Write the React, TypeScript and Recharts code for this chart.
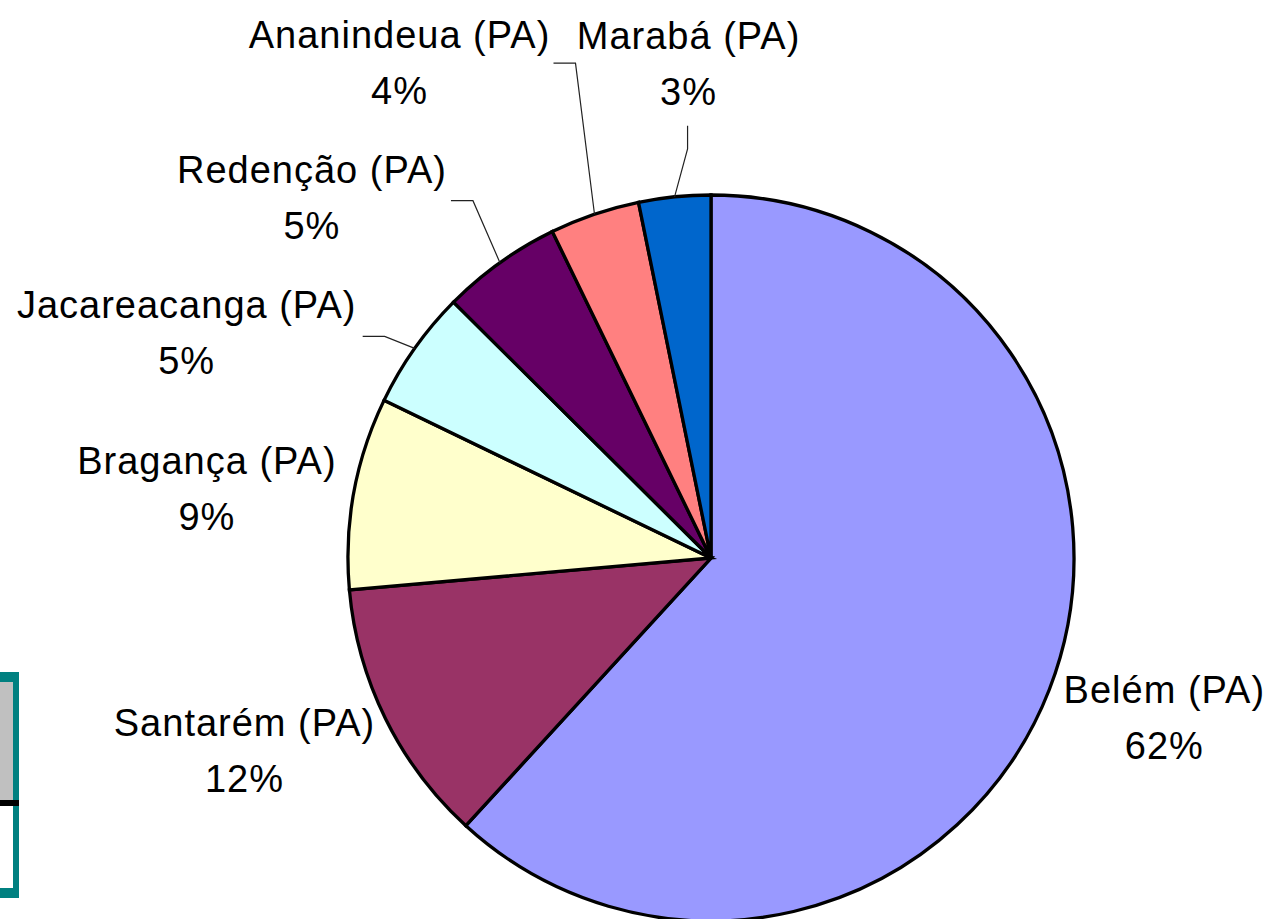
import React from 'react';
import { PieChart, Pie, Cell } from 'recharts';

const cities = [
  'Belém (PA)',
  'Santarém (PA)',
  'Bragança (PA)',
  'Jacareacanga (PA)',
  'Redenção (PA)',
  'Ananindeua (PA)',
  'Marabá (PA)',
];
const shares = [61.8, 11.8, 8.55, 5.3, 5.35, 4.0, 3.2];
const colors = ['#9999FF', '#993366', '#FFFFCC', '#CCFFFF', '#660066', '#FF8080', '#0066CC'];

const total = shares.reduce((a, b) => a + b, 0);
const data = cities.map((name, i) => ({ name, value: shares[i] }));

// label centre relative to the point where the slice's mid angle meets the rim,
// plus optional leader line (points also relative to that rim point)
const labelLayout: { dx: number; dy: number; leader?: [number, number][] }[] = [
  { dx: 115, dy: 28 },
  { dx: -141, dy: 32 },
  { dx: -147, dy: -4 },
  { dx: -228, dy: -15, leader: [[-30, -12], [-52, -12]] },
  { dx: -188, dy: -65, leader: [[-27, -62], [-49, -62]] },
  { dx: -195, dy: -151, leader: [[-19, -151], [-41, -151]] },
  { dx: 14, dy: -133, leader: [[13, -48], [13, -71]] },
];

const RAD = Math.PI / 180;
const FONT = '"Liberation Sans", Arial, Helvetica, sans-serif';

const renderLabel = (props: any) => {
  const { cx, cy, midAngle, outerRadius, index } = props;
  const ax = cx + outerRadius * Math.cos(-midAngle * RAD);
  const ay = cy + outerRadius * Math.sin(-midAngle * RAD);
  const lay = labelLayout[index];
  const lx = ax + lay.dx;
  const ly = ay + lay.dy;
  const pct = Math.round((shares[index] / total) * 100);
  const pts = lay.leader
    ? [[ax, ay], ...lay.leader.map(([x, y]) => [ax + x, ay + y])].map((p) => p.join(',')).join(' ')
    : null;
  return (
    <g key={`lbl-${index}`}>
      {pts && <polyline points={pts} fill="none" stroke="#222" strokeWidth={1.2} />}
      <text
        x={lx}
        y={ly}
        textAnchor="middle"
        fontFamily={FONT}
        fontSize={38}
        letterSpacing={1}
        fill="#000"
      >
        <tspan x={lx} dy={-15}>{cities[index]}</tspan>
        <tspan x={lx} dy={56}>{pct}%</tspan>
      </text>
    </g>
  );
};

export default function App() {
  return (
    <div
      style={{
        position: 'absolute',
        left: 0,
        top: 0,
        width: 1267,
        height: 919,
        background: '#fff',
        overflow: 'hidden',
      }}
    >
      {/* partially visible table at the left edge */}
      <div style={{ position: 'absolute', left: -40, top: 672, width: 59, height: 226, background: '#008080' }} />
      <div style={{ position: 'absolute', left: -40, top: 682, width: 53, height: 118, background: '#C0C0C0' }} />
      <div style={{ position: 'absolute', left: -40, top: 806, width: 53, height: 82, background: '#fff' }} />
      <div style={{ position: 'absolute', left: -40, top: 800, width: 59, height: 6, background: '#000' }} />

      <PieChart width={1267} height={919} margin={{ top: 0, right: 0, bottom: 0, left: 0 }}>
        <Pie
          data={data}
          dataKey="value"
          nameKey="name"
          cx={711}
          cy={558}
          outerRadius={363}
          startAngle={90}
          endAngle={-270}
          stroke="#000"
          strokeWidth={3.3}
          label={renderLabel}
          labelLine={false}
          isAnimationActive={false}
        >
          {data.map((d, i) => (
            <Cell key={d.name} fill={colors[i]} />
          ))}
        </Pie>
      </PieChart>
    </div>
  );
}
